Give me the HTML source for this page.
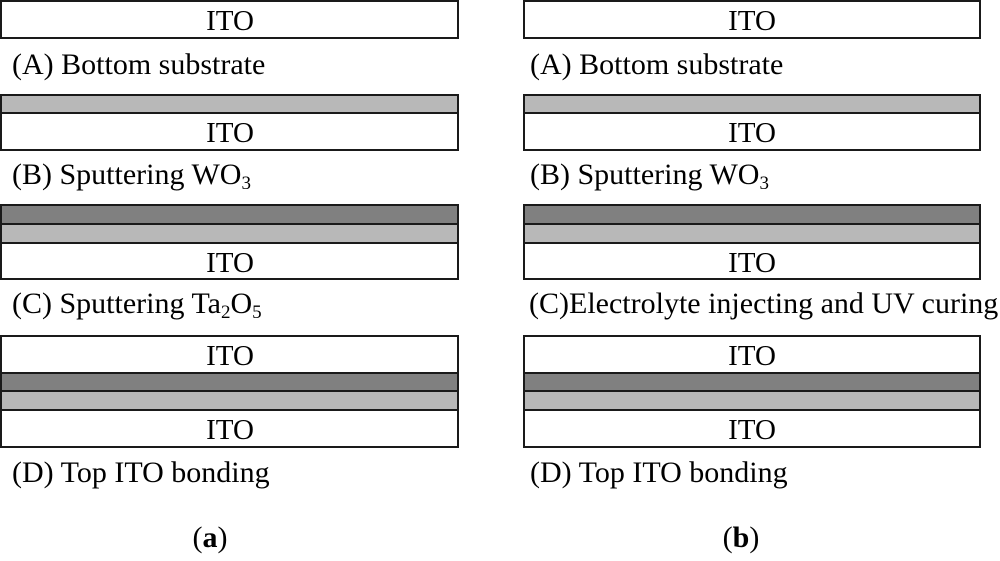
<!DOCTYPE html>
<html><head><style>body{margin:0;background:#fff}</style></head><body>
<svg width="1000" height="556" xmlns="http://www.w3.org/2000/svg" font-family="Liberation Serif, serif" font-size="29" fill="#000">
<g stroke="#1a1a1a" stroke-width="2">
<rect x="1" y="1" width="457" height="37" fill="#fff"/>
<rect x="1" y="95" width="457" height="18" fill="#b8b8b8"/>
<rect x="1" y="113" width="457" height="37" fill="#fff"/>
<rect x="1" y="205" width="457" height="19" fill="#808080"/>
<rect x="1" y="224" width="457" height="19" fill="#b8b8b8"/>
<rect x="1" y="243" width="457" height="36" fill="#fff"/>
<rect x="1" y="336" width="457" height="37" fill="#fff"/>
<rect x="1" y="373" width="457" height="18" fill="#808080"/>
<rect x="1" y="391" width="457" height="19" fill="#b8b8b8"/>
<rect x="1" y="410" width="457" height="37" fill="#fff"/>
<rect x="524" y="1" width="456" height="37" fill="#fff"/>
<rect x="524" y="95" width="456" height="18" fill="#b8b8b8"/>
<rect x="524" y="113" width="456" height="37" fill="#fff"/>
<rect x="524" y="205" width="456" height="19" fill="#808080"/>
<rect x="524" y="224" width="456" height="19" fill="#b8b8b8"/>
<rect x="524" y="243" width="456" height="36" fill="#fff"/>
<rect x="524" y="336" width="456" height="37" fill="#fff"/>
<rect x="524" y="373" width="456" height="18" fill="#808080"/>
<rect x="524" y="391" width="456" height="19" fill="#b8b8b8"/>
<rect x="524" y="410" width="456" height="37" fill="#fff"/>
</g>
<g text-anchor="middle">
<text x="230" y="30">ITO</text><text x="230" y="142">ITO</text><text x="230" y="272">ITO</text><text x="230" y="365">ITO</text><text x="230" y="439">ITO</text>
<text x="752" y="30">ITO</text><text x="752" y="142">ITO</text><text x="752" y="272">ITO</text><text x="752" y="365">ITO</text><text x="752" y="439">ITO</text>
</g>
<g font-size="30">
<text x="12" y="74">(A) Bottom substrate</text>
<text x="12" y="184">(B) Sputtering WO<tspan font-size="19" dy="5">3</tspan></text>
<text x="12" y="313">(C) Sputtering Ta<tspan font-size="19" dy="5">2</tspan><tspan dy="-5">O</tspan><tspan font-size="19" dy="5">5</tspan></text>
<text x="12" y="482">(D) Top ITO bonding</text>
<text x="530" y="74">(A) Bottom substrate</text>
<text x="530" y="184">(B) Sputtering WO<tspan font-size="19" dy="5">3</tspan></text>
<text x="529" y="313">(C)Electrolyte injecting and UV curing</text>
<text x="530" y="482">(D) Top ITO bonding</text>
<text x="210" y="547" text-anchor="middle">(<tspan font-weight="bold">a</tspan>)</text>
<text x="741" y="547" text-anchor="middle">(<tspan font-weight="bold">b</tspan>)</text>
</g>
</svg>
</body></html>
